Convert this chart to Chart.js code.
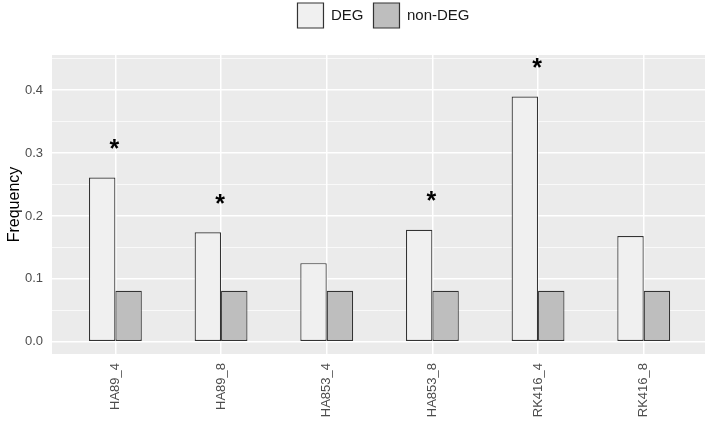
<!DOCTYPE html>
<html>
<head>
<meta charset="utf-8">
<script src="https://cdn.jsdelivr.net/npm/chart.js@4.4.1/dist/chart.umd.min.js"></script>
<style>
  html, body { margin: 0; padding: 0; background: #ffffff; }
  #wrap { width: 708px; height: 423px; }
</style>
</head>
<body>
<div id="wrap"><canvas id="c" width="708" height="423"></canvas></div>
<script>
const categories = ["HA89_4", "HA89_8", "HA853_4", "HA853_8", "RK416_4", "RK416_8"];
const degValues = [0.261, 0.174, 0.125, 0.178, 0.390, 0.168];
const nonDegValues = [0.081, 0.081, 0.081, 0.081, 0.081, 0.081];
const significant = [true, true, false, true, true, false];
const seriesNames = ["DEG", "non-DEG"];

const FONT = "'Liberation Sans', Arial, sans-serif";

const panelBg = {
  id: 'panelBg',
  beforeDraw(chart) {
    const { ctx, chartArea: a } = chart;
    ctx.save();
    ctx.fillStyle = '#ebebeb';
    ctx.fillRect(a.left, a.top, a.right - a.left, a.bottom - a.top);
    ctx.restore();
  }
};

const legendShift = {
  id: 'legendShift',
  afterLayout(chart) {
    if (chart.legend) { chart.legend.left += 10; }
  }
};

const stars = {
  id: 'stars',
  afterDatasetsDraw(chart) {
    const { ctx } = chart;
    const xs = chart.scales.x, ys = chart.scales.y;
    ctx.save();
    ctx.fillStyle = '#000';
    ctx.font = "bold 25px " + FONT;
    ctx.textAlign = 'center';
    ctx.textBaseline = 'middle';
    significant.forEach((s, i) => {
      if (!s) return;
      const x = xs.getPixelForValue(i) - 1;
      const y = ys.getPixelForValue(degValues[i]) - 27.5;
      ctx.fillText('*', x, y);
    });
    ctx.restore();
  }
};

const isMajor = v => Math.abs(v * 10 - Math.round(v * 10)) < 1e-6;

new Chart(document.getElementById('c'), {
  type: 'bar',
  data: {
    datasets: [
      {
        label: seriesNames[0],
        data: degValues.map((v, i) => ({ x: i, y: v })),
        backgroundColor: '#f0f0f0',
        borderColor: '#333333',
        borderWidth: 1.2,
        borderSkipped: false
      },
      {
        label: seriesNames[1],
        data: nonDegValues.map((v, i) => ({ x: i, y: v })),
        backgroundColor: '#bebebe',
        borderColor: '#333333',
        borderWidth: 1.2,
        borderSkipped: false
      }
    ]
  },
  options: {
    responsive: false,
    animation: false,
    devicePixelRatio: 1,
    layout: { padding: { left: 0, right: 3, top: -7, bottom: 0 } },
    datasets: { bar: { categoryPercentage: 0.5, barPercentage: 1.0 } },
    plugins: {
      legend: {
        position: 'top',
        align: 'center',
        fullSize: false,
        labels: {
          boxWidth: 26,
          boxHeight: 25,
          color: '#1a1a1a',
          font: { family: FONT, size: 15 },
          padding: 10
        }
      },
      title: {
        display: true,
        text: ' ',
        weight: 500,
        fullSize: false,
        font: { family: FONT, size: 2, lineHeight: 1 },
        padding: 7.5
      },
      tooltip: { enabled: false }
    },
    scales: {
      x: {
        type: 'linear',
        offset: false,
        min: -0.6,
        max: 5.58,
        afterFit: s => { s.height = 69; },
        grid: {
          offset: false,
          color: '#ffffff',
          lineWidth: 1.5,
          drawTicks: true,
          tickColor: 'rgba(0,0,0,0)',
          tickLength: 4,
          tickWidth: 1
        },
        border: { display: false },
        ticks: {
          stepSize: 1,
          includeBounds: false,
          autoSkip: false,
          minRotation: 90,
          maxRotation: 90,
          color: '#4d4d4d',
          font: { family: FONT, size: 13 },
          padding: 5,
          callback: v => categories[Math.round(v)] ?? ''
        }
      },
      y: {
        min: -0.0195,
        max: 0.456,
        afterFit: s => { s.width = 52; },
        grid: {
          color: '#ffffff',
          lineWidth: ctx => isMajor(ctx.tick.value) ? 1.5 : 0.7,
          drawTicks: true,
          tickColor: 'rgba(0,0,0,0)',
          tickLength: 4,
          tickWidth: 1
        },
        border: { display: false },
        ticks: {
          stepSize: 0.05,
          includeBounds: false,
          color: '#4d4d4d',
          font: { family: FONT, size: 13 },
          padding: 5,
          callback: v => isMajor(v) ? v.toFixed(1) : ''
        },
        title: {
          display: true,
          text: 'Frequency',
          color: '#000000',
          font: { family: FONT, size: 16, lineHeight: 1 },
          padding: { top: 7, bottom: 0 }
        }
      }
    }
  },
  plugins: [panelBg, legendShift, stars]
});
</script>
</body>
</html>
